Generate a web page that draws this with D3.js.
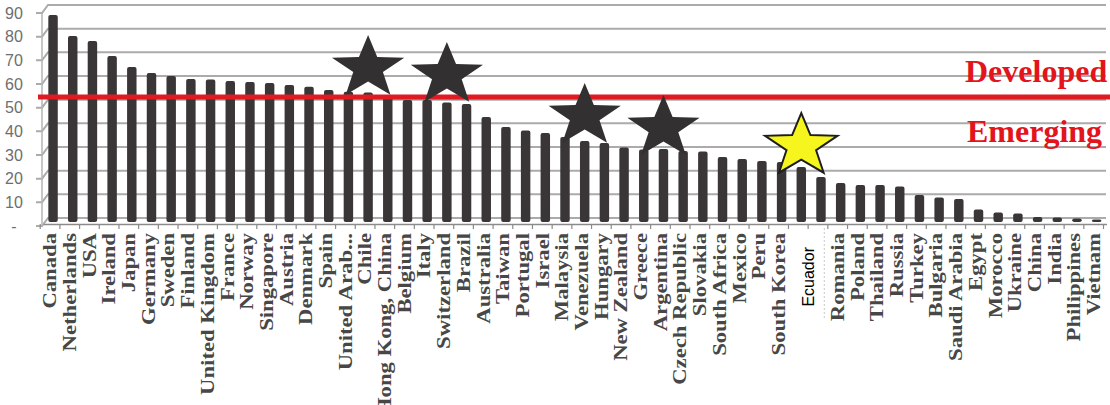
<!DOCTYPE html>
<html><head><meta charset="utf-8">
<script src="https://cdn.jsdelivr.net/npm/d3@7"></script>
<style>body{margin:0;background:#fff}svg{display:block}</style>
</head><body><svg id="c" width="1110" height="405"></svg>
<script>
const categories = ["Canada","Netherlands","USA","Ireland","Japan","Germany","Sweden","Finland","United Kingdom","France","Norway","Singapore","Austria","Denmark","Spain","United Arab...","Chile","Hong Kong, China","Belgium","Italy","Switzerland","Brazil","Australia","Taiwan","Portugal","Israel","Malaysia","Venezuela","Hungary","New Zealand","Greece","Argentina","Czech Republic","Slovakia","South Africa","Mexico","Peru","South Korea","Ecuador","","Romania","Poland","Thailand","Russia","Turkey","Bulgaria","Saudi Arabia","Egypt","Morocco","Ukraine","China","India","Philippines","Vietnam"];
const values = [87.5,78.6,76.5,70.1,65.5,63.0,61.7,60.4,60.2,59.6,59.2,58.7,57.9,57.2,55.8,55.0,54.7,52.8,51.5,51.5,50.5,49.9,44.4,40.1,38.7,37.6,35.9,34.2,33.4,31.5,30.6,30.8,30.0,29.8,27.5,26.6,25.8,25.3,23.2,19.0,16.5,15.6,15.6,15.0,11.4,10.3,9.7,5.3,4.0,3.6,2.1,1.9,1.5,1.1];
const yTicks = [0,10,20,30,40,50,60,70,80,90];
const threshold = 52.8;
const zoneLabels = ["Developed","Emerging"];
const starCountries = ["Chile","Switzerland","Venezuela","Argentina","Ecuador"];
const starLevels = [65.1,62.1,44.8,39.7,32.1];
const starFills = ["#333031","#333031","#333031","#333031","#f7f51e"];

const svg = d3.select("#c");
const n = categories.length;
const x = d3.scaleBand().domain(d3.range(n)).range([43.2, 1106.5]).paddingInner(0.52).paddingOuter(0.26);
const y = d3.scaleLinear().domain([0, 90]).range([222, 9]);

// back-wall gridlines (3D offset)
const grid = svg.append("g");
yTicks.forEach(v => {
  const yy = y(v);
  grid.append("path")
    .attr("d", `M36,${yy+4}L42,${yy+4}L48,${yy-4}L1106,${yy-4}`)
    .attr("fill","none").attr("stroke","#ababab").attr("stroke-width",2);
});
svg.append("line").attr("x1",42).attr("x2",42).attr("y1",y(90)+4).attr("y2",y(0)+4)
  .attr("stroke","#b5b5b5").attr("stroke-width",1.5);

// y axis labels
const yAxis = svg.append("g").attr("transform","translate(14,4)")
  .call(d3.axisLeft(y).tickValues(yTicks).tickSize(0).tickFormat(v => v === 0 ? "-" : v));
yAxis.select(".domain").remove();
yAxis.selectAll("text").attr("x",0).attr("text-anchor","middle")
  .style("font-family","'Liberation Sans', Arial, sans-serif").style("font-size","16px").attr("fill","#6e6e6e");

// bars
svg.append("g").selectAll("rect").data(values).join("rect")
  .attr("x",(d,i)=>x(i)).attr("width",x.bandwidth())
  .attr("y",d=>y(d)).attr("height",d=>y(0)-y(d)).attr("rx",2)
  .attr("fill","#3a3637");

// x axis
const xAxis = svg.append("g").attr("transform","translate(0,224)")
  .call(d3.axisBottom(x).tickSize(0).tickSizeOuter(0).tickFormat(i => categories[i]));
xAxis.select(".domain").attr("stroke","#8a8a8a").attr("stroke-width",1.5);
xAxis.selectAll("text")
  .attr("x",0).attr("y",0).attr("dy","0.35em").attr("text-anchor","end")
  .attr("transform", i => categories[i] === "Ecuador"
    ? "translate(7,23) rotate(-90)"
    : "translate(-3,9) rotate(-90) scale(1.26,1)")
  .style("font-family", i => categories[i] === "Ecuador" ? "'Liberation Sans', Arial, sans-serif" : "'Liberation Serif','Times New Roman',serif")
  .style("font-weight", i => categories[i] === "Ecuador" ? "normal" : "bold")
  .style("font-size", i => categories[i] === "Ecuador" ? "16px" : "18px")
  .attr("fill", i => categories[i] === "Ecuador" ? "#000" : "#474747");
// boundary ticks
const off = (x.step() - x.bandwidth())/2 + 3;
xAxis.append("g").selectAll("line").data(d3.range(n+1)).join("line")
  .attr("x1", i => (i < n ? x(i) : x(n-1) + x.step()) - off)
  .attr("x2", i => (i < n ? x(i) : x(n-1) + x.step()) - off)
  .attr("y1",0).attr("y2",5).attr("stroke","#8a8a8a").attr("stroke-width",1.2);
// Ecuador textbox border
const ei = categories.indexOf("Ecuador");
svg.append("line").attr("x1", x(ei)+x.bandwidth()/2+23).attr("x2", x(ei)+x.bandwidth()/2+23)
  .attr("y1",228).attr("y2",320).attr("stroke","#c8c8c8").attr("stroke-dasharray","2,2");

// threshold line
svg.append("line").attr("x1",38).attr("x2",1110).attr("y1",y(threshold)).attr("y2",y(threshold))
  .attr("stroke","#e01a22").attr("stroke-width",5);

// stars
function starPath(cx, cy, rx, ry, k) {
  const pts = [];
  for (let j = 0; j < 10; j++) {
    const a = -Math.PI/2 + j*Math.PI/5;
    const f = j % 2 === 0 ? 1 : k;
    pts.push([cx + Math.cos(a)*rx*f, cy + Math.sin(a)*ry*f]);
  }
  return "M" + pts.map(p => p.join(",")).join("L") + "Z";
}
svg.append("g").selectAll("path").data(starCountries).join("path")
  .attr("d",(c,j)=>{ const i = categories.indexOf(c); return starPath(x(i)+x.bandwidth()/2, y(starLevels[j]), 38, 33, 0.41); })
  .attr("fill",(c,j)=>starFills[j])
  .attr("stroke",(c,j)=> j === 4 ? "#1e1e1e" : "none").attr("stroke-width",2).attr("stroke-linejoin","miter");

// zone labels
svg.append("g").selectAll("text").data(zoneLabels).join("text")
  .attr("x",(d,i)=> i === 0 ? 965 : 967).attr("y",(d,i)=> i === 0 ? 82 : 142)
  .text(d=>d)
  .style("font-family","'Liberation Serif','Times New Roman',serif").style("font-weight","bold").style("font-size","32px")
  .attr("fill","#e3141c");
</script>
</body></html>
